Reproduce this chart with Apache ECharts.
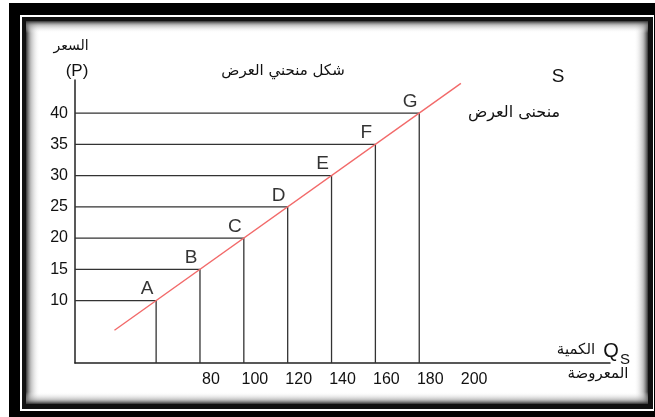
<!DOCTYPE html>
<html>
<head>
<meta charset="utf-8">
<script src="https://cdn.jsdelivr.net/npm/echarts@6/dist/echarts.min.js"></script>
<style>
html,body{margin:0;padding:0;background:#fff;}
#c{width:655px;height:417px;}
</style>
</head>
<body>
<div id="c"></div>
<script>
// Data
const pointNames = ['A', 'B', 'C', 'D', 'E', 'F', 'G'];
const quantities = [60, 80, 100, 120, 140, 160, 180];
const prices = [10, 15, 20, 25, 30, 35, 40];
const supplyLine = [[41, 5.25], [199, 44.75]];
const xTickLabels = [80, 100, 120, 140, 160, 180, 200];
const yTickLabels = [10, 15, 20, 25, 30, 35, 40];

const X_MIN = 23, X_MAX = 267, Y_MIN = 0, Y_MAX = 45.3;

const chart = echarts.init(document.getElementById('c'), null, {renderer: 'canvas'});

const guideSeries = quantities.map((q, i) => ({
  type: 'line',
  data: [[X_MIN, prices[i]], [q, prices[i]], [q, 0]],
  symbol: 'none',
  silent: true,
  lineStyle: {color: '#333', width: 1.3},
  z: 2
}));

const ARABIC = '"DejaVu Sans", sans-serif';
const LATIN = '"Liberation Sans", Arial, sans-serif';
const INK = '#111';

function edgeGrad(x, y, w, h, dir) {
  const stops = [{offset: 0, color: 'rgba(50,50,50,1)'}, {offset: 0.35, color: 'rgba(150,150,150,0.6)'}, {offset: 1, color: 'rgba(255,255,255,0)'}];
  let g;
  if (dir === 'left') g = new echarts.graphic.LinearGradient(0, 0, 1, 0, stops);
  if (dir === 'right') g = new echarts.graphic.LinearGradient(1, 0, 0, 0, stops);
  if (dir === 'top') g = new echarts.graphic.LinearGradient(0, 0, 0, 1, stops);
  if (dir === 'bottom') g = new echarts.graphic.LinearGradient(0, 1, 0, 0, stops);
  return {type: 'rect', shape: {x, y, width: w, height: h}, style: {fill: g}, z: -5, silent: true};
}

const option = {
  backgroundColor: '#fff',
  animation: false,
  grid: {left: 75, top: 80, right: 45, bottom: 54, containLabel: false},
  xAxis: {
    type: 'value', min: X_MIN, max: X_MAX,
    splitLine: {show: false},
    axisLine: {show: true, lineStyle: {color: '#222', width: 1.5}},
    axisTick: {show: false},
    axisLabel: {
      customValues: xTickLabels,
      color: INK, fontSize: 16, fontFamily: LATIN, margin: 9,
      padding: [0, 0, 0, 22]
    }
  },
  yAxis: {
    type: 'value', min: Y_MIN, max: Y_MAX,
    splitLine: {show: false},
    axisLine: {show: true, lineStyle: {color: '#222', width: 1.5}},
    axisTick: {show: false},
    axisLabel: {
      customValues: yTickLabels,
      color: INK, fontSize: 16, fontFamily: LATIN, margin: 7
    }
  },
  series: [
    ...guideSeries,
    {
      type: 'line',
      data: supplyLine,
      symbol: 'none',
      silent: true,
      lineStyle: {color: '#f26a6a', width: 1.4},
      z: 3
    },
    {
      type: 'scatter',
      data: quantities.map((q, i) => ({value: [q, prices[i]], name: pointNames[i]})),
      symbolSize: 0,
      silent: true,
      label: {
        show: true, position: 'top', distance: 2, offset: [-9, 0],
        formatter: p => p.name,
        color: '#000', fontSize: 19, fontFamily: LATIN
      },
      z: 4
    }
  ],
  graphic: [
    // frame
    {type: 'rect', shape: {x: 9, y: 3, width: 660, height: 420}, style: {fill: '#000'}, z: -10, silent: true},
    {type: 'rect', shape: {x: 20, y: 15, width: 634, height: 396}, style: {fill: '#fff'}, z: -9, silent: true},
    {type: 'rect', shape: {x: 22, y: 17, width: 631, height: 392}, style: {fill: '#111'}, z: -8, silent: true},
    {type: 'rect', shape: {x: 26, y: 21, width: 622, height: 383}, style: {fill: '#fff'}, z: -7, silent: true},
    edgeGrad(26, 21, 14, 383, 'left'),
    edgeGrad(634, 21, 14, 383, 'right'),
    edgeGrad(26, 21, 622, 12, 'top'),
    edgeGrad(26, 392, 622, 12, 'bottom'),
    // texts
    {type: 'text', x: 71, y: 46, style: {text: 'السعر', font: '14px ' + ARABIC, fill: INK, align: 'center', verticalAlign: 'middle'}, z: 10},
    {type: 'text', x: 77, y: 71, style: {text: '(P)', font: '17px ' + LATIN, fill: INK, align: 'center', verticalAlign: 'middle'}, z: 10},
    {type: 'text', x: 283, y: 71, style: {text: 'شكل منحني العرض', font: '15px ' + ARABIC, fill: INK, align: 'center', verticalAlign: 'middle'}, z: 10},
    {type: 'text', x: 558, y: 77, style: {text: 'S', font: '19px ' + LATIN, fill: INK, align: 'center', verticalAlign: 'middle'}, z: 10},
    {type: 'text', x: 514, y: 113, style: {text: 'منحنى العرض', font: '16px ' + ARABIC, fill: INK, align: 'center', verticalAlign: 'middle'}, z: 10},
    {type: 'text', x: 611, y: 351, style: {text: 'Q', font: '20px ' + LATIN, fill: INK, align: 'center', verticalAlign: 'middle'}, z: 10},
    {type: 'text', x: 625, y: 360, style: {text: 'S', font: '15px ' + LATIN, fill: INK, align: 'center', verticalAlign: 'middle'}, z: 10},
    {type: 'text', x: 576, y: 350, style: {text: 'الكمية', font: '15px ' + ARABIC, fill: INK, align: 'center', verticalAlign: 'middle'}, z: 10},
    {type: 'text', x: 598, y: 374, style: {text: 'المعروضة', font: '15px ' + ARABIC, fill: INK, align: 'center', verticalAlign: 'middle'}, z: 10}
  ]
};
chart.setOption(option);
</script>
</body>
</html>
